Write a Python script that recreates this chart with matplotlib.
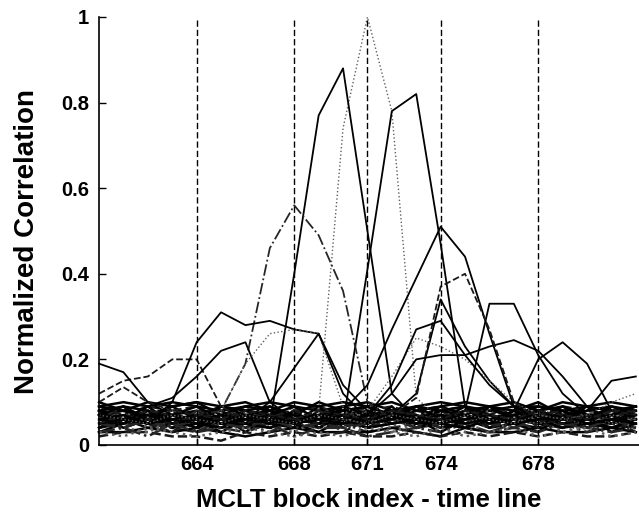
import matplotlib
matplotlib.use("Agg")
import matplotlib.pyplot as plt

plt.rcParams["font.family"] = ["Liberation Sans", "DejaVu Sans"]

# block index (x) for every curve
blocks = list(range(660, 683))

# curves that show a correlation peak
peak_671 = [.06, .05, .07, .06, .05, .07, .06, .05, .06, .08, .74, 1.0, .78, .11, .06, .07, .05, .06, .07, .05, .06, .07, .05]
peak_670 = [.05, .06, .05, .07, .06, .05, .07, .05, .40, .77, .88, .50, .12, .06, .07, .05, .06, .07, .05, .06, .05, .06, .07]
peak_673 = [.07, .05, .06, .05, .07, .06, .05, .06, .07, .05, .05, .41, .78, .82, .47, .09, .07, .06, .05, .07, .06, .05, .06]
peak_668 = [.06, .07, .05, .06, .07, .08, .19, .46, .56, .49, .36, .10, .06, .07, .05, .06, .07, .05, .06, .07, .06, .05, .07]
early_hump = [.12, .15, .16, .20, .20, .09, .06, .07, .05, .06, .07, .05, .06, .07, .05, .06, .07, .06, .05, .07, .06, .05, .06]
early_high = [.19, .17, .10, .07, .06, .05, .07, .06, .05, .07, .06, .05, .07, .06, .05, .07, .06, .05, .06, .07, .05, .06, .07]
plateau_665 = [.06, .07, .05, .10, .24, .31, .28, .29, .27, .26, .12, .06, .07, .05, .06, .07, .05, .06, .07, .05, .06, .07, .05]
hump_666 = [.05, .06, .09, .11, .16, .22, .24, .10, .06, .07, .05, .06, .07, .05, .06, .07, .05, .06, .07, .05, .06, .05, .07]
rise_667 = [.07, .05, .06, .07, .05, .08, .19, .26, .27, .26, .09, .06, .05, .07, .06, .05, .07, .06, .05, .06, .07, .05, .06]
rise_669 = [.06, .07, .05, .06, .07, .05, .06, .10, .18, .26, .14, .08, .06, .07, .05, .06, .07, .05, .06, .05, .07, .06, .05]
flat_676 = [.05, .06, .07, .05, .06, .07, .05, .06, .07, .05, .06, .07, .05, .06, .06, .08, .33, .33, .21, .12, .07, .06, .05]
peak_679 = [.06, .05, .07, .06, .05, .07, .06, .05, .06, .07, .05, .06, .07, .05, .06, .05, .06, .08, .20, .24, .19, .08, .07]
wide_677 = [.07, .06, .05, .07, .06, .05, .07, .06, .05, .06, .05, .07, .12, .20, .21, .21, .23, .245, .22, .16, .09, .06, .07]
peak_674a = [.05, .07, .06, .05, .07, .06, .05, .07, .06, .05, .07, .06, .07, .12, .34, .23, .15, .09, .07, .05, .06, .07, .05]
gray_673 = [.06, .05, .07, .06, .05, .07, .06, .05, .07, .06, .05, .08, .16, .25, .23, .20, .15, .10, .07, .06, .05, .07, .06]
peak_674b = [.07, .06, .05, .07, .06, .05, .07, .06, .05, .07, .08, .14, .27, .39, .51, .44, .26, .09, .06, .07, .05, .06, .07]
peak_675 = [.05, .07, .06, .05, .07, .06, .05, .07, .06, .05, .06, .05, .07, .11, .37, .40, .27, .10, .06, .05, .07, .06, .05]
desc_674 = [.06, .05, .07, .06, .05, .07, .06, .05, .07, .06, .05, .07, .14, .27, .29, .21, .14, .09, .06, .07, .05, .06, .05]
late_rise = [.06, .07, .05, .06, .07, .05, .06, .07, .05, .06, .07, .05, .06, .07, .05, .06, .07, .05, .06, .06, .08, .15, .16]
late_gray = [.07, .06, .05, .07, .06, .05, .07, .06, .05, .07, .06, .05, .07, .06, .05, .07, .06, .05, .07, .06, .07, .10, .12]
spike_661 = [.10, .135, .10, .08, .07, .06, .08, .07, .06, .08, .07, .06, .08, .07, .06, .08, .07, .06, .08, .07, .06, .08, .07]

peaks = [peak_671, peak_670, peak_673, peak_668, early_hump, early_high,
         plateau_665, hump_666, rise_667, rise_669, flat_676, peak_679,
         wide_677, peak_674a, gray_673, peak_674b, peak_675, desc_674,
         late_rise, late_gray, spike_661]
peak_styles = [":", "-", "-", "-.", "--", "-", "-", "-", ":", "-", "-", "-",
               "-", "-", ":", "-", "--", "-", "-", ":", "--"]

# uncorrelated curves forming the dense band near zero
background = [
    [.09, .10, .09, .10, .09, .08, .09, .10, .09, .08, .09, .10, .08, .09, .10, .09, .08, .09, .09, .08, .09, .08, .09],
    [.08, .07, .09, .08, .07, .09, .08, .07, .08, .09, .07, .08, .09, .07, .08, .09, .07, .08, .07, .09, .08, .07, .08],
    [.07, .08, .06, .07, .08, .06, .07, .08, .06, .07, .08, .07, .06, .08, .07, .06, .08, .07, .08, .06, .07, .08, .06],
    [.06, .05, .07, .06, .05, .07, .06, .05, .07, .06, .05, .06, .07, .05, .06, .07, .05, .06, .05, .07, .06, .05, .07],
    [.05, .06, .04, .05, .06, .04, .05, .06, .04, .05, .06, .04, .05, .06, .04, .05, .06, .05, .04, .06, .05, .04, .05],
    [.04, .05, .05, .04, .03, .05, .04, .05, .05, .04, .05, .03, .04, .05, .05, .04, .03, .05, .04, .05, .04, .05, .04],
    [.03, .03, .04, .03, .04, .03, .02, .03, .04, .03, .03, .03, .04, .03, .02, .04, .03, .03, .04, .03, .03, .04, .03],
    [.02, .03, .03, .02, .02, .01, .03, .02, .03, .02, .03, .02, .02, .03, .02, .03, .02, .03, .02, .03, .02, .02, .03],
    [.08, .06, .09, .05, .07, .08, .05, .09, .06, .07, .09, .05, .08, .06, .09, .07, .05, .08, .06, .09, .07, .06, .08],
    [.05, .08, .04, .07, .05, .06, .09, .04, .07, .05, .08, .06, .04, .09, .05, .07, .08, .04, .07, .05, .08, .06, .05],
    [.07, .04, .06, .09, .06, .03, .06, .08, .05, .09, .04, .07, .08, .05, .07, .04, .09, .06, .05, .08, .04, .07, .09],
    [.06, .09, .05, .04, .08, .07, .04, .06, .09, .04, .06, .09, .05, .07, .04, .08, .06, .07, .09, .04, .06, .09, .04],
    [.04, .06, .08, .06, .04, .09, .07, .05, .04, .08, .07, .05, .09, .04, .06, .09, .04, .05, .08, .06, .09, .05, .07],
    [.09, .07, .05, .08, .09, .05, .08, .06, .08, .06, .04, .08, .06, .08, .09, .05, .07, .09, .04, .07, .05, .08, .06],
    [.03, .05, .07, .04, .05, .07, .03, .07, .05, .03, .06, .04, .07, .04, .05, .06, .04, .07, .05, .04, .07, .03, .05],
    [.05, .04, .03, .06, .04, .04, .06, .04, .03, .06, .04, .06, .03, .05, .07, .03, .05, .04, .06, .03, .05, .06, .04],
    [.07, .09, .08, .05, .06, .09, .08, .09, .07, .05, .09, .07, .06, .09, .06, .08, .09, .06, .08, .09, .06, .09, .07],
    [.06, .04, .06, .08, .03, .06, .05, .03, .06, .08, .05, .04, .06, .04, .08, .05, .06, .04, .07, .05, .03, .05, .08],
    [.08, .05, .07, .07, .05, .04, .07, .05, .08, .04, .07, .05, .08, .06, .03, .06, .07, .05, .03, .07, .06, .04, .06],
    [.04, .07, .05, .03, .07, .05, .04, .06, .05, .07, .03, .06, .05, .06, .05, .07, .04, .06, .05, .04, .07, .06, .03],
    [.10, .08, .10, .09, .10, .09, .10, .08, .10, .09, .10, .09, .10, .08, .09, .10, .09, .10, .08, .10, .09, .10, .09],
    [.05, .07, .06, .05, .06, .08, .06, .07, .05, .06, .05, .07, .05, .06, .06, .04, .07, .06, .06, .05, .06, .07, .05],
    [.06, .05, .08, .06, .07, .05, .05, .04, .06, .05, .07, .06, .07, .05, .07, .06, .05, .08, .05, .06, .05, .04, .06],
    [.03, .04, .02, .05, .03, .04, .03, .05, .02, .04, .04, .02, .03, .04, .03, .05, .03, .04, .03, .05, .04, .03, .04],
    [.09, .08, .07, .09, .10, .07, .09, .08, .07, .10, .08, .09, .07, .09, .08, .07, .09, .08, .10, .07, .08, .09, .08],
    [.07, .06, .08, .07, .06, .08, .06, .07, .08, .06, .07, .06, .08, .07, .06, .08, .07, .06, .07, .08, .06, .07, .08],
    [.04, .06, .05, .06, .04, .06, .05, .04, .06, .05, .06, .04, .05, .06, .05, .04, .06, .05, .06, .04, .05, .06, .05],
    [.03, .02, .04, .03, .02, .03, .04, .03, .02, .03, .02, .04, .03, .02, .04, .02, .03, .04, .02, .03, .04, .02, .03],
    [.08, .09, .06, .07, .09, .06, .08, .07, .09, .06, .08, .09, .07, .06, .08, .09, .06, .07, .09, .08, .06, .07, .09],
    [.05, .04, .06, .04, .06, .05, .04, .06, .04, .05, .04, .05, .06, .04, .05, .06, .05, .04, .06, .05, .04, .06, .04],
]

# block boundaries marked with dashed lines
marks = [664, 668, 671, 674, 678]
y_ticks = [0, 0.2, 0.4, 0.6, 0.8, 1]
y_labels = ["0", "0.2", "0.4", "0.6", "0.8", "1"]

STYLE_COLOR = {"-": "black", "--": "0.1", ":": "0.38", "-.": "0.15"}

fig = plt.figure(figsize=(6.39, 5.15), dpi=100)
ax = fig.add_axes([0.155, 0.136, 0.845, 0.831])

bg_cycle = ["-", "--", "-", ":", "-", "-."]
for i, row in enumerate(background):
    ls = bg_cycle[i % len(bg_cycle)]
    ax.plot(blocks, row, ls, color=STYLE_COLOR[ls], lw=1.8, clip_on=False)

for row, ls in zip(peaks, peak_styles):
    lw = 1.0 if ls == ":" else 1.3
    ax.plot(blocks, row, ls, color=STYLE_COLOR[ls], lw=lw, clip_on=False)

ax.vlines(marks, 0, 1, colors="black", linestyles=(0, (4.5, 2.2)), lw=1.0)

ax.set_xlim(660, 682.13)
ax.set_ylim(0, 1)
ax.set_xticks(marks)
ax.set_xticklabels([str(m) for m in marks], fontweight="bold")
ax.set_yticks(y_ticks)
ax.set_yticklabels(y_labels, fontweight="bold")
ax.tick_params(direction="in", length=5, width=1, labelsize=14.5, pad=7)

for side in ("top", "right"):
    ax.spines[side].set_visible(False)
for side in ("left", "bottom"):
    ax.spines[side].set_linewidth(1.2)

ax.set_xlabel("MCLT block index - time line", fontsize=18.5,
              fontweight="bold", labelpad=10)
ax.set_ylabel("Normalized Correlation", fontsize=20, fontweight="bold")
ax.yaxis.set_label_coords(-0.11, 0.475)

fig.savefig("out.png", dpi=100)
